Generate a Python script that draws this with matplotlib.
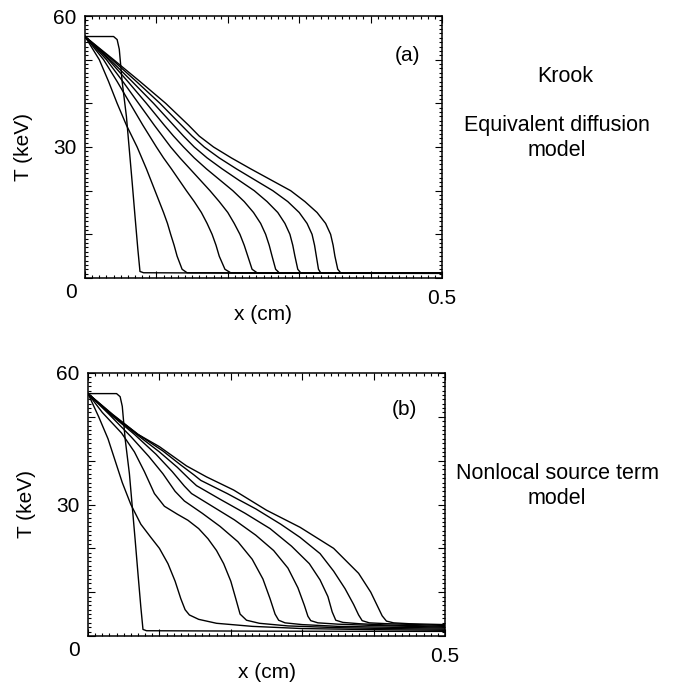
"""
Temperature profiles T(x) at successive times for two heat-transport models:
(a) Krook equivalent diffusion, (b) nonlocal source term.
"""

import matplotlib
matplotlib.use("Agg")
import matplotlib.pyplot as plt
import matplotlib.transforms as mtransforms
from matplotlib.ticker import MultipleLocator, FixedLocator

plt.rcParams["font.family"] = ["Liberation Sans", "DejaVu Sans"]

# ---- panel (a): Krook / equivalent diffusion -------------------------------
# initial steep profile
a_step_x = [0, 0.040, 0.045, 0.048, 0.052, 0.058, 0.062, 0.066, 0.070, 0.074, 0.077, 0.082, 0.25, 0.5]
a_step_T = [55.3, 55.3, 54.6, 52.4, 45.0, 37.0, 29.5, 22.0, 14.2, 6.6, 1.5, 1.2, 1.1, 1.05]

# later profiles: x position reached at each temperature level
a_T_levels = [55.3, 50, 45, 40, 35, 32.5, 30, 27.5, 25, 20, 17.5, 15, 12.5, 10, 7.5, 5, 3.5, 2, 1.2]
a_x1 = [0, 0.020, 0.033, 0.045, 0.058, 0.0655, 0.073, 0.0795, 0.086, 0.098, 0.104, 0.110, 0.1155, 0.120, 0.1248, 0.129, 0.1325, 0.136, 0.143]
a_x2 = [0, 0.026, 0.045, 0.063, 0.081, 0.0905, 0.100, 0.110, 0.121, 0.142, 0.153, 0.163, 0.171, 0.178, 0.1835, 0.188, 0.192, 0.196, 0.204]
a_x3 = [0, 0.030, 0.053, 0.075, 0.097, 0.1085, 0.120, 0.133, 0.147, 0.175, 0.188, 0.200, 0.209, 0.217, 0.223, 0.228, 0.231, 0.234, 0.241]
a_x4 = [0, 0.033, 0.060, 0.086, 0.111, 0.124, 0.138, 0.153, 0.170, 0.207, 0.223, 0.236, 0.246, 0.253, 0.258, 0.262, 0.2645, 0.267, 0.272]
a_x5 = [0, 0.035, 0.066, 0.096, 0.124, 0.138, 0.153, 0.171, 0.192, 0.237, 0.255, 0.270, 0.280, 0.287, 0.291, 0.294, 0.296, 0.298, 0.302]
a_x6 = [0, 0.038, 0.072, 0.105, 0.135, 0.150, 0.167, 0.188, 0.212, 0.263, 0.284, 0.300, 0.311, 0.318, 0.3215, 0.324, 0.3255, 0.327, 0.330]
a_x7 = [0, 0.040, 0.077, 0.113, 0.145, 0.160, 0.180, 0.205, 0.232, 0.288, 0.308, 0.325, 0.337, 0.344, 0.3475, 0.350, 0.352, 0.354, 0.358]
a_floor_T = 1.1

# ---- panel (b): nonlocal source term ----------------------------------------
b_step_x = a_step_x
b_step_T = [55.3, 55.3, 54.6, 52.4, 45.0, 37.0, 29.5, 22.0, 14.2, 6.6, 1.5, 1.2, 1.1, 1.05]

b1_x = [0, 0.015, 0.028, 0.038, 0.048, 0.060, 0.074, 0.088, 0.100, 0.112, 0.122, 0.130, 0.136, 0.142, 0.155, 0.18, 0.23, 0.30, 0.40, 0.5]
b1_T = [55.3, 50, 45, 40, 35, 30, 25.5, 22.5, 20, 16.5, 12.5, 8.5, 6, 4.8, 3.8, 2.9, 2.2, 1.7, 1.45, 1.3]
b2_x = [0, 0.020, 0.047, 0.065, 0.079, 0.093, 0.107, 0.125, 0.140, 0.155, 0.168, 0.180, 0.190, 0.200, 0.207, 0.213, 0.222, 0.24, 0.28, 0.35, 0.42, 0.5]
b2_T = [55.3, 51, 46.3, 42, 37.5, 32.5, 29.6, 27.8, 26.4, 24.5, 22.2, 19.5, 16.5, 12.5, 8.5, 5, 3.6, 2.9, 2.3, 1.9, 1.7, 1.55]
b3_x = [0, 0.030, 0.060, 0.085, 0.105, 0.122, 0.135, 0.160, 0.185, 0.210, 0.230, 0.245, 0.255, 0.262, 0.267, 0.276, 0.30, 0.35, 0.42, 0.5]
b3_T = [55.3, 50.5, 45.5, 41, 37, 33, 30.8, 28, 25, 21.5, 17.5, 13, 8.5, 5, 3.6, 3.0, 2.6, 2.2, 2.0, 1.8]
b4_x = [0, 0.032, 0.065, 0.095, 0.118, 0.135, 0.145, 0.175, 0.205, 0.235, 0.260, 0.280, 0.294, 0.303, 0.308, 0.312, 0.322, 0.35, 0.40, 0.45, 0.5]
b4_T = [55.3, 50.5, 46, 41.5, 37.5, 34.2, 32.5, 29.5, 26.5, 23, 19.5, 15.5, 11, 7, 4.5, 3.5, 3.0, 2.7, 2.4, 2.2, 2.0]
b5_x = [0, 0.033, 0.068, 0.100, 0.125, 0.142, 0.152, 0.185, 0.22, 0.255, 0.285, 0.31, 0.325, 0.336, 0.342, 0.347, 0.357, 0.38, 0.42, 0.46, 0.5]
b5_T = [55.3, 50.5, 46, 42, 38.5, 35.8, 34.3, 31.2, 28, 24.5, 20.5, 16.5, 12.8, 9, 5.5, 3.6, 3.1, 2.8, 2.5, 2.35, 2.2]
b6_x = [0, 0.034, 0.070, 0.105, 0.130, 0.148, 0.158, 0.195, 0.235, 0.270, 0.297, 0.325, 0.344, 0.360, 0.372, 0.379, 0.384, 0.394, 0.42, 0.46, 0.5]
b6_T = [55.3, 50.5, 46, 42.2, 39, 36.8, 35.5, 32.5, 29, 25.5, 22.5, 18.8, 14.8, 10.8, 7.2, 4.8, 3.5, 3.0, 2.8, 2.6, 2.4]
b7_x = [0, 0.035, 0.070, 0.100, 0.138, 0.166, 0.204, 0.250, 0.297, 0.344, 0.379, 0.396, 0.404, 0.412, 0.418, 0.428, 0.45, 0.5]
b7_T = [55.3, 50.5, 46, 43.2, 38.8, 36.3, 33.3, 28.7, 24.8, 20.0, 14.3, 10, 7.3, 4.6, 3.4, 3.0, 2.8, 2.6]

Y_MAJOR = [0, 10, 20, 30, 40, 50, 60]
Y_LABELS = ["0", "", "", "30", "", "", "60"]
X_MAJOR = [0, 0.1, 0.2, 0.3, 0.4, 0.5]
X_LABELS = ["", "", "", "", "", "0.5"]

FS = 15
LW = 1.0

fig = plt.figure(figsize=(6.78, 6.86), dpi=100)
ax_a = fig.add_axes([85 / 678, 1 - 278 / 686, 357 / 678, 262 / 686])
ax_b = fig.add_axes([88 / 678, 1 - 636 / 686, 357 / 678, 263 / 686])


def style_axes(ax, tag, tag_xy):
    ax.set_xlim(0, 0.5)
    ax.set_ylim(0, 60)
    ax.xaxis.set_major_locator(FixedLocator(X_MAJOR))
    ax.set_xticklabels(X_LABELS)
    ax.xaxis.set_minor_locator(MultipleLocator(0.01))
    ax.yaxis.set_major_locator(FixedLocator(Y_MAJOR))
    ax.set_yticklabels(Y_LABELS)
    ax.yaxis.set_minor_locator(MultipleLocator(1))
    ax.tick_params(which="both", direction="in", top=True, right=True,
                   width=0.8, labelsize=FS)
    ax.tick_params(axis="x", pad=8)
    ax.tick_params(axis="y", pad=6)
    ax.tick_params(which="major", length=5)
    ax.tick_params(which="minor", length=2.5)
    for sp in ax.spines.values():
        sp.set_linewidth(1.1)
    # the "0" label sits a little below the axis, as in the original
    for lab in ax.get_yticklabels():
        if lab.get_text() == "0":
            lab.set_transform(lab.get_transform() +
                              mtransforms.ScaledTranslation(0, -12 / 100, fig.dpi_scale_trans))
    ax.set_xlabel("x (cm)", fontsize=FS)
    ax.xaxis.set_label_coords(0.5, -27 / 262)
    ax.set_ylabel("T (keV)", fontsize=FS)
    ax.yaxis.set_label_coords(-0.145, 0.5)
    ax.text(tag_xy[0], tag_xy[1], tag, transform=ax.transAxes, fontsize=FS,
            ha="center", va="center")


# panel (a)
ax_a.plot(a_step_x, a_step_T, color="black", lw=LW)
for xs in [a_x1, a_x2, a_x3, a_x4, a_x5, a_x6, a_x7]:
    ax_a.plot(xs + [0.5], a_T_levels + [a_floor_T], color="black", lw=LW)
style_axes(ax_a, "(a)", (0.902, 0.85))

# panel (b)
ax_b.plot(b_step_x, b_step_T, color="black", lw=LW)
for xs, ts in [(b1_x, b1_T), (b2_x, b2_T), (b3_x, b3_T), (b4_x, b4_T),
               (b5_x, b5_T), (b6_x, b6_T), (b7_x, b7_T)]:
    ax_b.plot(xs, ts, color="black", lw=LW)
style_axes(ax_b, "(b)", (0.885, 0.86))

SIDE_FS = 15.5
fig.text(565 / 678, 1 - 77 / 686, "Krook", fontsize=SIDE_FS, ha="center", va="center")
fig.text(557 / 678, 1 - 138 / 686, "Equivalent diffusion\nmodel", fontsize=SIDE_FS,
         ha="center", va="center", linespacing=1.2)
fig.text(557 / 678, 1 - 486 / 686, "Nonlocal source term\nmodel", fontsize=SIDE_FS,
         ha="center", va="center", linespacing=1.2)

fig.savefig("out.png", dpi=100)
